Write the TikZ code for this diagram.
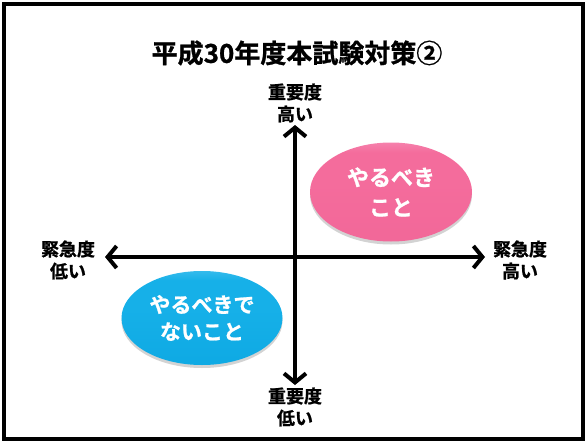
\documentclass[tikz,border=0pt]{standalone}
\usepackage{fontspec}
\newfontfamily\jp{Noto Sans CJK JP}[BoldFont={Noto Sans CJK JP Bold},BoldFeatures={FakeBold=1}]
\usetikzlibrary{arrows.meta,shapes.geometric,shadows}
\definecolor{pinkL}{RGB}{250,182,212}
\definecolor{pinkM}{RGB}{244,108,156}
\definecolor{pinkD}{RGB}{240,100,150}
\definecolor{blueL}{RGB}{130,214,246}
\definecolor{blueM}{RGB}{22,176,232}
\definecolor{blueD}{RGB}{8,164,224}
\pgfdeclareverticalshading{pinkshade}{100bp}{color(0bp)=(pinkD); color(55bp)=(pinkM); color(70bp)=(pinkM); color(88bp)=(pinkL); color(100bp)=(pinkL)}
\pgfdeclareverticalshading{blueshade}{100bp}{color(0bp)=(blueD); color(55bp)=(blueM); color(70bp)=(blueM); color(88bp)=(blueL); color(100bp)=(blueL)}
\tikzset{
  axislabel/.style={font=\jp\bfseries\fontsize{18}{22}\selectfont, align=center, inner sep=0pt},
  titlestyle/.style={font=\jp\bfseries\fontsize{26}{30}\selectfont, inner sep=0pt},
  axisline/.style={line width=4pt, {Straight Barb[length=9pt,width=22pt]}-{Straight Barb[length=9pt,width=22pt]}},
  axisone/.style={line width=4pt, -{Straight Barb[length=9pt,width=22pt]}},
  bubble/.style={ellipse, draw=none, inner sep=0pt, text=white, align=center,
     drop shadow={opacity=0.35, shadow xshift=0pt, shadow yshift=-3pt}},
}
\begin{document}
\begin{tikzpicture}[x=1pt,y=-1pt]
\useasboundingbox (0,0) rectangle (585,441);
\draw[line width=3.2pt] (4,4) rectangle (583,439);
\node[titlestyle] (title) at (297,53) {平成30年度本試験対策②};
% axes
\coordinate (c) at (295,257);
\coordinate (top) at (295,125);
\coordinate (bot) at (295,385);
\coordinate (lft) at (105,257);
\coordinate (rgt) at (485,257);
\draw[axisline] (lft) -- (rgt);
\draw[axisone] (c) -- (top);
\draw[axisone] (c) -- (bot);
% labels
\node[axislabel] (tl) at (295,103) {重要度\\高い};
\node[axislabel] (bl) at (295,407) {重要度\\低い};
\node[axislabel] (ll) at (68,260) {緊急度\\低い};
\node[axislabel] (rl) at (520,260) {緊急度\\高い};
% bubbles
\node[bubble, minimum width=162pt, minimum height=99pt, shading=pinkshade,
      font=\jp\bfseries\fontsize{22}{30}\selectfont] (do) at (391,192) {やるべき\\こと};
\node[bubble, minimum width=161pt, minimum height=94pt, shading=blueshade,
      font=\jp\bfseries\fontsize{21}{27}\selectfont] (dont) at (202,318) {やるべきで\\ないこと};
\end{tikzpicture}
\end{document}
